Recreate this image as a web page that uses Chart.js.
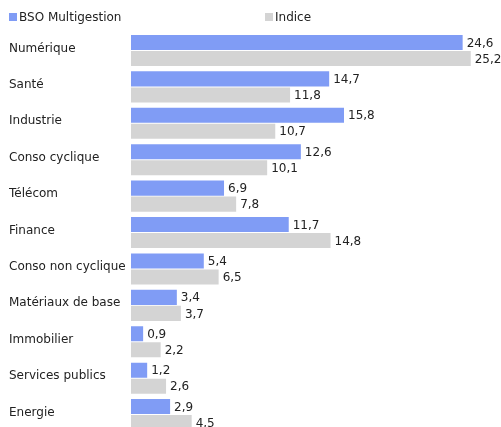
<!DOCTYPE html>
<html><head><meta charset="utf-8">
<script src="https://cdn.jsdelivr.net/npm/chart.js@4/dist/chart.umd.min.js"></script>
<style>html,body{margin:0;padding:0;background:#fff;overflow:hidden;width:501px;height:427px}
#wrap{position:relative;width:501px;height:440px}</style>
</head><body>
<div id="wrap"><canvas id="c" width="501" height="440"></canvas></div>
<script>
const categories = ["Numérique","Santé","Industrie","Conso cyclique","Télécom","Finance","Conso non cyclique","Matériaux de base","Immobilier","Services publics","Energie"];
const seriesNames = ["BSO Multigestion","Indice"];
const bsoValues = [24.6,14.7,15.8,12.6,6.9,11.7,5.4,3.4,0.9,1.2,2.9];
const indiceValues = [25.2,11.8,10.7,10.1,7.8,14.8,6.5,3.7,2.2,2.6,4.5];
const colors = ["#809cf5","#d4d4d4"];
const FONT = "DejaVu Sans, Verdana, sans-serif";

const labelPlugin = {
  id:'labels',
  afterDatasetsDraw(chart){
    const ctx = chart.ctx;
    ctx.save();
    ctx.font = "12px " + FONT;
    ctx.fillStyle = "#222";
    ctx.textBaseline = "middle";
    ctx.textAlign = "left";
    chart.data.datasets.forEach((ds,i)=>{
      chart.getDatasetMeta(i).data.forEach((bar,j)=>{
        ctx.fillText(ds.data[j].toFixed(1).replace('.',','), bar.x + 4, bar.y + 1);
      });
    });
    // legend
    const lx = [9,265];
    chart.data.datasets.forEach((ds,i)=>{
      ctx.fillStyle = ds.backgroundColor;
      ctx.fillRect(lx[i],13,8,8);
      ctx.fillStyle = "#222";
      ctx.fillText(ds.label, lx[i]+10, 18);
    });
    ctx.restore();
  }
};

new Chart(document.getElementById('c'),{
  type:'bar',
  data:{
    labels:categories,
    datasets:[
      {label:seriesNames[0],data:bsoValues,backgroundColor:colors[0],categoryPercentage:0.88,barPercentage:0.94},
      {label:seriesNames[1],data:indiceValues,backgroundColor:colors[1],categoryPercentage:0.88,barPercentage:0.94}
    ]
  },
  options:{
    indexAxis:'y',
    responsive:false,
    animation:false,
    layout:{padding:{left:9,right:6,top:32.3,bottom:5.5}},
    plugins:{legend:{display:false},tooltip:{enabled:false}},
    scales:{
      x:{min:0,max:27,display:false},
      y:{
        grid:{display:false},
        border:{display:false},
        ticks:{crossAlign:'far',color:'#222',font:{family:FONT,size:12},padding:0,labelOffset:-2},
        afterFit(s){ s.width = 122; }
      }
    }
  },
  plugins:[labelPlugin]
});
</script>
</body></html>
